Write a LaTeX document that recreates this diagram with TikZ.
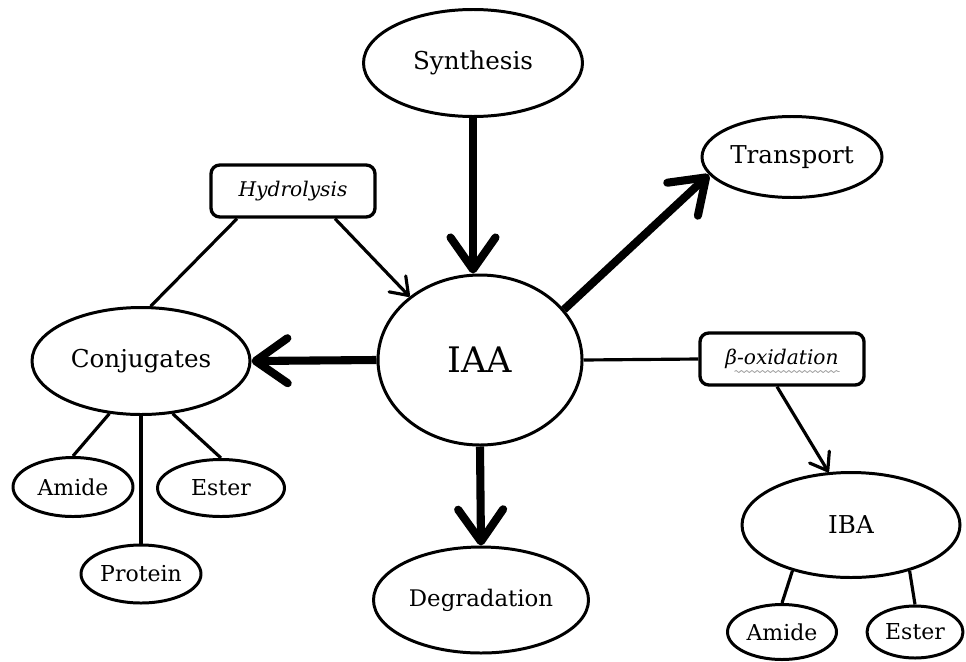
\documentclass[tikz,border=0pt]{standalone}
\usepackage{fontspec}
\setmainfont{DejaVu Serif}
\usetikzlibrary{shapes.geometric,arrows.meta,decorations.pathmorphing}

\begin{document}
\begin{tikzpicture}[line join=round]
    \tikzstyle{stage}=[ellipse,draw,line width=1.7pt,inner sep=0pt,
        font=\fontsize{14}{16}\selectfont]
    \tikzstyle{leaf}=[stage,font=\fontsize{12.5}{14}\selectfont]
    \tikzstyle{event}=[rectangle,rounded corners=5pt,draw,line width=1.9pt,
        minimum width=3.28cm,minimum height=1.04cm,
        font=\fontsize{11.5}{13}\selectfont\itshape]
    \tikzstyle{major}=[line width=4.6pt,
        -{Straight Barb[length=0.64cm,width=0.9cm,round]}]
    \tikzstyle{minor}=[line width=1.8pt,
        -{Straight Barb[length=0.32cm,width=0.46cm,round]}]
    \tikzstyle{link}=[line width=1.8pt]

    \useasboundingbox (0,0) rectangle (19.32,-13.22);

    % Central hormone and its main fates
    \node[stage, minimum width=4.08cm, minimum height=3.4cm,
        font=\fontsize{20}{22}\selectfont] (IAA) at (9.6,-7.2) {IAA};
    \node[stage, minimum width=4.38cm, minimum height=2.14cm] (Synth) at (9.46,-1.26) {Synthesis};
    \node[stage, minimum width=3.6cm, minimum height=1.62cm] (Trans) at (15.84,-3.14) {Transport};
    \node[stage, minimum width=4.3cm, minimum height=2.12cm,
        font=\fontsize{13}{15}\selectfont] (Degr) at (9.62,-12.0) {Degradation};
    \node[stage, minimum width=4.36cm, minimum height=2.14cm] (Conj) at (2.82,-7.22) {Conjugates};
    \node[stage, minimum width=4.36cm, minimum height=2.1cm] (IBA) at (17.02,-10.5) {IBA};

    % Conjugate forms
    \node[leaf, minimum width=2.4cm, minimum height=1.18cm] (ConjAmide) at (1.46,-9.74) {Amide};
    \node[leaf, minimum width=2.54cm, minimum height=1.14cm] (ConjEster) at (4.42,-9.76) {Ester};
    \node[leaf, minimum width=2.4cm, minimum height=1.16cm] (ConjProt) at (2.82,-11.48) {Protein};

    % IBA conjugate forms
    \node[leaf, minimum width=2.18cm, minimum height=1.1cm] (IBAAmide) at (15.64,-12.64) {Amide};
    \node[leaf, minimum width=1.92cm, minimum height=1.04cm] (IBAEster) at (18.3,-12.64) {Ester};

    % Reaction boxes
    \node[event] (Hydro) at (5.86,-3.82) {Hydrolysis};
    \node[event] (BetaOx) at (15.64,-7.18) {β-oxidation};
    \draw[black!35, line width=0.5pt, decorate,
        decoration={snake, amplitude=0.6pt, segment length=3pt}]
        ([xshift=-0.95cm, yshift=-0.25cm]BetaOx.center) -- ([xshift=1.15cm, yshift=-0.25cm]BetaOx.center);

    % Main fluxes
    \draw[major] (Synth.south) -- (Synth.south |- IAA.north);
    \draw[major] (IAA.31) -- (Trans.192);
    \draw[major] (IAA.west) -- (Conj.east);
    \draw[major] (IAA.south) -- (Degr.north);

    % Hydrolysis of conjugates back to IAA
    \draw[link] ([xshift=-1.12cm]Hydro.south) -- (Conj.80);
    \draw[minor] ([xshift=0.84cm]Hydro.south) -- (IAA.138);

    % Beta-oxidation of IBA
    \draw[link] (IAA.east) -- (BetaOx.west);
    \draw[minor] ([xshift=-0.1cm]BetaOx.south) -- (IBA.113);

    % Connect the conjugate forms
    \foreach \src / \ang / \dest in {Conj/239/ConjAmide, Conj/301/ConjEster, IBA/218/IBAAmide, IBA/322/IBAEster}
        \draw[link] (\src.\ang) -- (\dest.north);
    \draw[link] (Conj.south) -- (ConjProt.north);
\end{tikzpicture}
\end{document}
